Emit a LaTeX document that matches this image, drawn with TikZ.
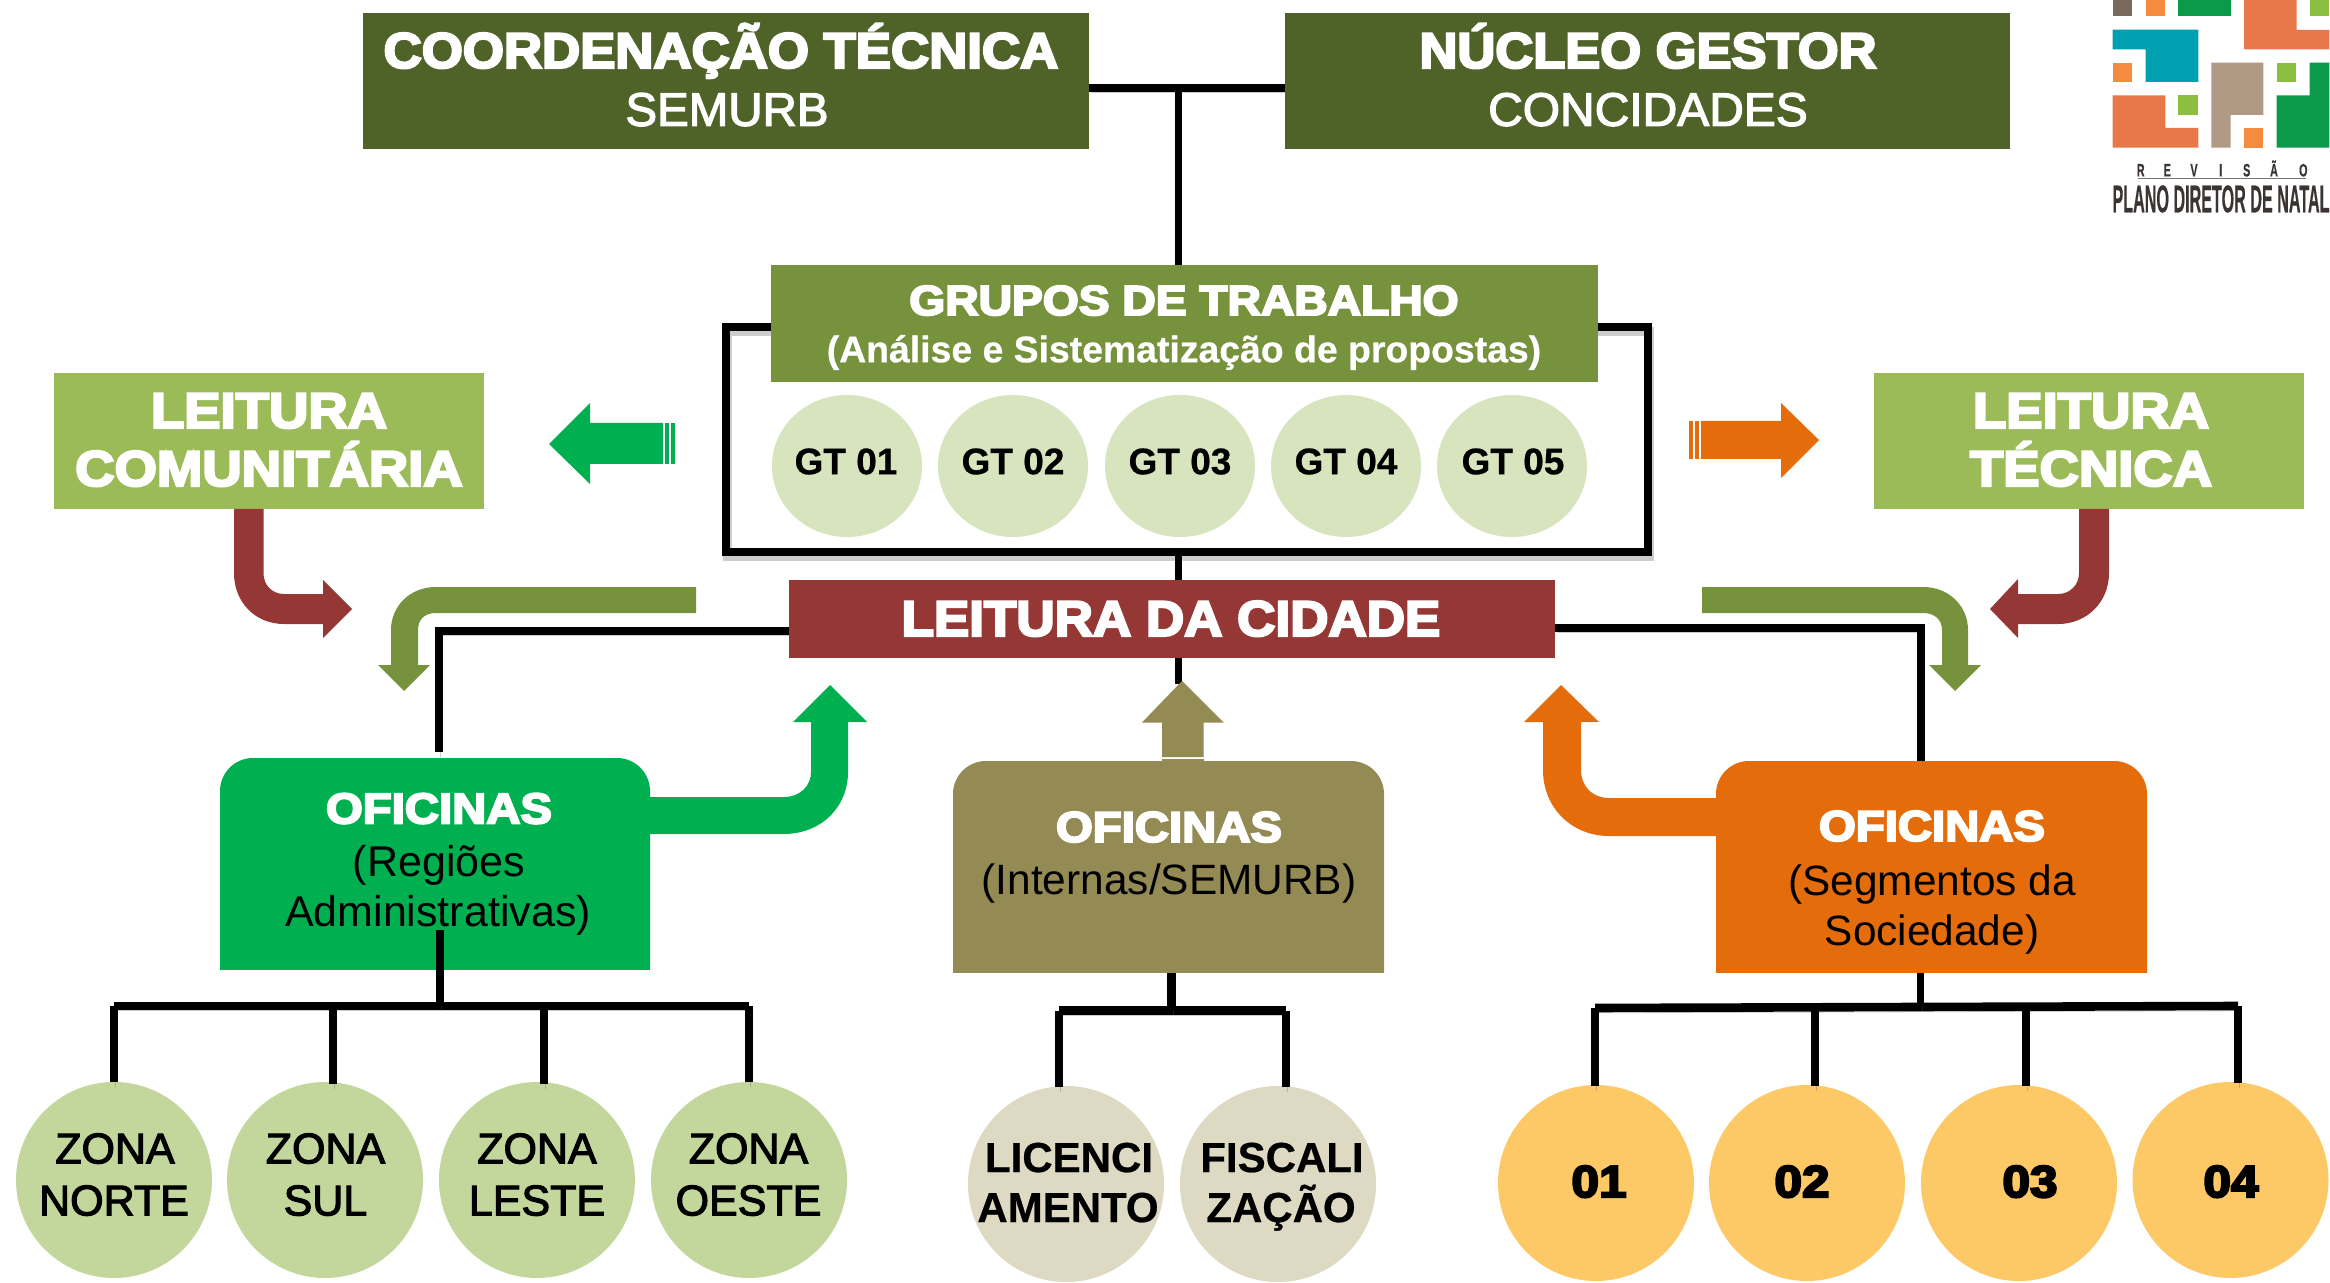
\documentclass[tikz,border=0pt]{standalone}
\usepackage{graphicx}
\usepackage{fontspec}
\usetikzlibrary{shapes.geometric}
\setmainfont{Liberation Sans}
\newfontfamily\heavyf[UprightFont={* Bold},FakeBold=4.5]{Liberation Sans}
\newfontfamily\boldf[UprightFont={* Bold},FakeBold=0.6]{Liberation Sans}
\newfontfamily\medf[FakeBold=2.6]{Liberation Sans}
\newfontfamily\regf{Liberation Sans}
\definecolor{cDark}{HTML}{4F6228}
\definecolor{cOlive}{HTML}{76923C}
\definecolor{cLeit}{HTML}{9BBB59}
\definecolor{cRed}{HTML}{953735}
\definecolor{cGreen}{HTML}{00B050}
\definecolor{cKhaki}{HTML}{948A54}
\definecolor{cOrange}{HTML}{E46C0A}
\definecolor{cZona}{HTML}{C3D69B}
\definecolor{cGT}{HTML}{D7E4BD}
\definecolor{cLic}{HTML}{DDD9C3}
\definecolor{cNum}{HTML}{FDC966}
\definecolor{lBrown}{HTML}{7A6A5E}
\definecolor{lOrange}{HTML}{F58B3F}
\definecolor{lGreen}{HTML}{0B9A4A}
\definecolor{lSalmon}{HTML}{E8784A}
\definecolor{lLight}{HTML}{8CBF3F}
\definecolor{lTeal}{HTML}{00A0B0}
\definecolor{lTan}{HTML}{B09A85}
\definecolor{lInk}{HTML}{3A3532}
\tikzset{
  x=0.5pt,y=-0.5pt,
  rect/.style={rectangle,inner sep=0pt,outer sep=0pt},
  round/.style={ellipse,inner sep=0pt,outer sep=0pt},
  conn/.style={line width=4.3pt,draw=black,line join=miter,
    preaction={draw=black!60,opacity=.32,transform canvas={shift={(0.8pt,-2.4pt)}}}},
  thinconn/.style={conn,line width=3.7pt},
}
% box from corners (px)
\newcommand\mybox[6]{\node[rect,fill=#6,minimum width={(#4-#2)*.5},minimum height={(#5-#3)*.5}] (#1) at ({(#2+#4)/2},{(#3+#5)/2}) {};}
% box with rounded top corners: the shape is a path, the node carries its name
\newcommand\mytabbox[6]{%
  \fill[#6,rounded corners=16.5pt] (#2,#5+40) -- (#2,#3) -- (#4,#3) -- (#4,#5+40) -- cycle;
  \fill[white] (#2-2,#5) rectangle (#4+2,#5+42);
  \node[rect,minimum width={(#4-#2)*.5},minimum height={(#5-#3)*.5}] (#1) at ({(#2+#4)/2},{(#3+#5)/2}) {};}
\newcommand\myell[6]{\node[round,fill=#6,minimum width={#4*1pt},minimum height={#5*1pt}] (#1) at (#2,#3) {};}
% name, x, cap-centre y, size pt, x-stretch, font, colour, text
\newcommand\tx[8]{\node[anchor=base,inner sep=0pt,outer sep=0pt,text=#7] (#1) at (#2,{#3+.716*#4}) {\scalebox{#5}[1]{\fontsize{#4pt}{#4pt}\selectfont#6#8}};}
\begin{document}
\begin{tikzpicture}
\useasboundingbox (0,0) rectangle (2330,1283);
\fill[white] (0,0) rectangle (2330,1283);

% ---------- connectors behind boxes
\node[rect,minimum width={(1648-726)*.5},minimum height={(552-327)*.5},conn] (frame) at (1187,439.5) {};
\coordinate (j1) at (1178.5,88);
\coordinate (jL) at (439,631);
\coordinate (jR) at (1921,628);

% ---------- top boxes
\mybox{coord}{363}{13}{1089}{149}{cDark}
\mybox{nucleo}{1285}{13}{2010}{149}{cDark}
\mybox{gt}{771}{265}{1598}{382}{cOlive}
\mybox{cidade}{789}{580}{1555}{658}{cRed}
\mybox{lcom}{54}{373}{484}{509}{cLeit}
\mybox{ltec}{1874}{373}{2304}{509}{cLeit}

\draw[conn] (coord.east|-j1) -- (nucleo.west|-j1);
\draw[thinconn] (j1) -- (gt.north-|j1);
\draw[thinconn] (frame.south-|j1) -- (cidade.north-|j1);

% ---------- workshop boxes
\mytabbox{ofR}{220}{758}{650}{970}{cGreen}
\mytabbox{ofI}{953}{761}{1384}{973}{cKhaki}
\mytabbox{ofS}{1716}{761}{2147}{973}{cOrange}

\coordinate (endL) at (439,752);
\draw[conn] (cidade.west|-jL) -- (jL) -- (endL);
\draw[conn] (cidade.east|-jR) -- (jR) -- (ofS.north-|jR);

% ---------- block arrows
% green left
\fill[cGreen] (549,444) -- (590,403) -- (590,423) -- (663,423) -- (663,464) -- (590,464) -- (590,484) -- cycle;
\fill[cGreen] (665,423) rectangle (669,464);
\fill[cGreen] (671,423) rectangle (675,464);
% orange right
\fill[cOrange] (1819,440) -- (1781,403) -- (1781,421) -- (1701,421) -- (1701,459) -- (1781,459) -- (1781,478) -- cycle;
\fill[cOrange] (1695,421) rectangle (1699,459);
\fill[cOrange] (1689,421) rectangle (1693,459);
% red left
\fill[cRed] (234,509) -- (263.5,509) -- (263.5,573) .. controls (263.5,585) and (272,594) .. (284,594) -- (323,594) -- (323,580) -- (352,609) -- (323,638) -- (323,624) -- (284,624) .. controls (255,624) and (234,602) .. (234,573) -- cycle;
% red right
\fill[cRed] (2109,509) -- (2079,509) -- (2079,573) .. controls (2079,585) and (2070,594) .. (2058,594) -- (2018,594) -- (2018,579) -- (1990,609) -- (2018,638) -- (2018,624) -- (2058,624) .. controls (2087,624) and (2109,602) .. (2109,573) -- cycle;
% olive left
\fill[cOlive] (696,587) -- (436,587) .. controls (410,587) and (391,606) .. (391,630) -- (391,665) -- (378,665) -- (404,691) -- (430,665) -- (418,665) -- (418,630) .. controls (418,620) and (424,613) .. (436,613) -- (696,613) -- cycle;
% olive right
\fill[cOlive] (1702,587) -- (1923,587) .. controls (1949,587) and (1968,606) .. (1968,630) -- (1968,665) -- (1981,665) -- (1955,691) -- (1929,665) -- (1942,665) -- (1942,630) .. controls (1942,620) and (1935,613) .. (1923,613) -- (1702,613) -- cycle;
% green up
\fill[cGreen] (650,797) -- (784,797) .. controls (800,797) and (811,786) .. (811,772) -- (811,722) -- (793,722) -- (830,685) -- (867,722) -- (848,722) -- (848,772) .. controls (848,808) and (820,834) .. (784,834) -- (650,834) -- cycle;
% orange up
\fill[cOrange] (1716,798) -- (1609,798) .. controls (1592,798) and (1581,786) .. (1581,770) -- (1581,722) -- (1599,722) -- (1561,685) -- (1524,722) -- (1543,722) -- (1543,770) .. controls (1543,808) and (1572,836) .. (1609,836) -- (1716,836) -- cycle;
% khaki up
\coordinate (kTip) at (1178.5,684);
\draw[thinconn] (cidade.south-|j1) -- (kTip);
\fill[cKhaki] (1182,681) -- (1223.5,722.5) -- (1203.5,722.5) -- (1203.5,757) -- (1162,757) -- (1162,722.5) -- (1142,722.5) -- cycle;
\fill[cKhaki] (1162,759) rectangle (1203.5,762);

% ---------- tree: regions
\coordinate (barRl) at (114,1006);
\coordinate (barRr) at (749,1006);
\coordinate (barR2) at (333,1006);
\coordinate (barR3) at (544,1006);
\coordinate (stemR) at (440,930);
\myell{z1}{114}{1180}{98}{98}{cZona}
\myell{z2}{325}{1180}{98}{98}{cZona}
\myell{z3}{537}{1180}{98}{98}{cZona}
\myell{z4}{749}{1180}{98}{98}{cZona}
\draw[conn] (barRl) -- (barRr);
\draw[thinconn] (stemR) -- (stemR|-barRl);
\draw[thinconn] (barRl) -- (z1.north);
\draw[thinconn] (barR2) -- (333,1084);
\draw[thinconn] (barR3) -- (544,1084);
\draw[thinconn] (barRr) -- (z4.north);

% ---------- tree: internal
\coordinate (barIl) at (1059,1010.5);
\coordinate (barIr) at (1286,1010.5);
\coordinate (stemI) at (1171.5,973);
\myell{li}{1066}{1184}{98}{98}{cLic}
\myell{fi}{1278}{1184}{98}{98}{cLic}
\draw[conn] (barIl) -- (barIr);
\draw[conn] (stemI) -- (stemI|-barIl);
\draw[conn] (barIl) -- (1059,1087);
\draw[conn] (barIr) -- (1286,1087);

% ---------- tree: segments
\coordinate (barSl) at (1595,1008);
\coordinate (barSr) at (2238,1006);
\coordinate (stemS) at (1920.6,973);
\coordinate (barS2) at (1815,1007);
\coordinate (barS3) at (2026,1007);
\myell{n1}{1596}{1183}{98}{98}{cNum}
\myell{n2}{1807}{1183}{98}{98}{cNum}
\myell{n3}{2019}{1183}{98}{98}{cNum}
\myell{n4}{2230.5}{1180}{98}{98}{cNum}
\draw[conn] (barSl) -- (barSr);
\draw[thinconn] (stemS) -- (stemS|-barSr);
\draw[thinconn] (barSl) -- (1595,1086);
\draw[thinconn] (barS2) -- (1815,1086);
\draw[thinconn] (barS3) -- (2026,1086);
\draw[thinconn] (barSr) -- (2238,1083);

% ---------- GT ellipses
\myell{g1}{847}{466}{75}{71}{cGT}
\myell{g2}{1013}{466}{75}{71}{cGT}
\myell{g3}{1180}{466}{75}{71}{cGT}
\myell{g4}{1346}{466}{75}{71}{cGT}
\myell{g5}{1512}{466}{75}{71}{cGT}

% ---------- texts
\tx{t1}{721}{50}{25}{1.056}{\heavyf}{white}{COORDENAÇÃO TÉCNICA}
\tx{t2}{727}{109}{23.5}{1.01}{\medf}{white}{SEMURB}
\tx{t3}{1648}{50}{25}{1.05}{\heavyf}{white}{NÚCLEO GESTOR}
\tx{t4}{1648}{109}{23.5}{1.02}{\medf}{white}{CONCIDADES}
\tx{t5}{1184}{300}{21}{1.1}{\heavyf}{white}{GRUPOS DE TRABALHO}
\tx{t6}{1184}{349}{18.5}{1.01}{\boldf}{white}{(Análise e Sistematização de propostas)}
\tx{t7}{846}{461}{18.5}{1}{\boldf}{black}{GT 01}
\tx{t8}{1013}{461}{18.5}{1}{\boldf}{black}{GT 02}
\tx{t9}{1180}{461}{18.5}{1}{\boldf}{black}{GT 03}
\tx{t10}{1346}{461}{18.5}{1}{\boldf}{black}{GT 04}
\tx{t11}{1513}{461}{18.5}{1}{\boldf}{black}{GT 05}
\tx{t12}{269}{410}{25}{1.09}{\heavyf}{white}{LEITURA}
\tx{t13}{269}{468}{25}{1.09}{\heavyf}{white}{COMUNITÁRIA}
\tx{t14}{2091}{410}{25}{1.09}{\heavyf}{white}{LEITURA}
\tx{t15}{2091}{468}{25}{1.09}{\heavyf}{white}{TÉCNICA}
\tx{t16}{1171}{618}{25}{1.06}{\heavyf}{white}{LEITURA DA CIDADE}
\tx{t17}{439}{808}{21.5}{1.1}{\heavyf}{white}{OFICINAS}
\tx{t18}{439}{861}{21.5}{1}{\regf}{black}{(Regiões}
\tx{t19}{438}{911}{21.5}{1}{\regf}{black}{Administrativas)}
\tx{t20}{1169}{826.5}{21.5}{1.1}{\heavyf}{white}{OFICINAS}
\tx{t21}{1169}{879}{21.2}{1}{\regf}{black}{(Internas/SEMURB)}
\tx{t22}{1932}{825.5}{21.5}{1.1}{\heavyf}{white}{OFICINAS}
\tx{t23}{1932}{880}{21.2}{1}{\regf}{black}{(Segmentos da}
\tx{t24}{1932}{930}{21.2}{1}{\regf}{black}{Sociedade)}
\tx{t25}{115}{1148}{21.5}{1}{\medf}{black}{ZONA}
\tx{t26}{114}{1200}{21.5}{1}{\medf}{black}{NORTE}
\tx{t27}{325.5}{1148}{21.5}{1}{\medf}{black}{ZONA}
\tx{t28}{325.5}{1200}{21.5}{1}{\medf}{black}{SUL}
\tx{t29}{537}{1148}{21.5}{1}{\medf}{black}{ZONA}
\tx{t30}{537}{1200}{21.5}{1}{\medf}{black}{LESTE}
\tx{t31}{748.5}{1148}{21.5}{1}{\medf}{black}{ZONA}
\tx{t32}{748.5}{1200}{21.5}{1}{\medf}{black}{OESTE}
\tx{t33}{1069}{1157}{21}{1}{\boldf}{black}{LICENCI}
\tx{t34}{1068}{1207}{21}{1}{\boldf}{black}{AMENTO}
\tx{t35}{1282}{1157}{21}{1}{\boldf}{black}{FISCALI}
\tx{t36}{1281}{1207}{21}{1}{\boldf}{black}{ZAÇÃO}
\tx{t37}{1599}{1181}{22.5}{1.1}{\heavyf}{black}{01}
\tx{t38}{1802}{1181}{22.5}{1.1}{\heavyf}{black}{02}
\tx{t39}{2030}{1181}{22.5}{1.1}{\heavyf}{black}{03}
\tx{t40}{2231}{1181}{22.5}{1.1}{\heavyf}{black}{04}

% ---------- logo
\begin{scope}[shift={(2050,0)},x=0.16667pt,y=-0.16667pt]
\fill[lBrown] (188,0) rectangle (247,48);
\fill[lOrange] (287,0) rectangle (346,48);
\fill[lGreen] (385,0) rectangle (542,48);
\fill[lSalmon] (582,0) -- (740,0) -- (740,90) -- (838,90) -- (838,148) -- (582,148) -- cycle;
\fill[lLight] (779,0) rectangle (838,48);
\fill[lTeal] (188,89) -- (445,89) -- (445,246) -- (287,246) -- (287,148) -- (188,148) -- cycle;
\fill[lOrange] (188,188) rectangle (247,246);
\fill[lTan] (484,188) -- (640,188) -- (640,345) -- (542,345) -- (542,443) -- (484,443) -- cycle;
\fill[lLight] (680,188) rectangle (739,246);
\fill[lGreen] (779,188) -- (838,188) -- (838,443) -- (680,443) -- (680,286) -- (779,286) -- cycle;
\fill[lSalmon] (188,286) -- (346,286) -- (346,384) -- (445,384) -- (445,443) -- (188,443) -- cycle;
\fill[lLight] (385,286) rectangle (444,345);
\fill[lOrange] (582,385) rectangle (640,443);
\draw[lInk!70,line width=0.5pt] (265,535) -- (768,535);
\end{scope}
\tx{r1}{2140.7}{170}{9}{.6}{\boldf}{lInk}{R}
\tx{r2}{2167.3}{170}{9}{.6}{\boldf}{lInk}{E}
\tx{r3}{2194}{170}{9}{.6}{\boldf}{lInk}{V}
\tx{r4}{2220.7}{170}{9}{.6}{\boldf}{lInk}{I}
\tx{r5}{2246.7}{170}{9}{.6}{\boldf}{lInk}{S}
\tx{r6}{2274}{170}{9}{.6}{\boldf}{lInk}{Ã}
\tx{r7}{2303.3}{170}{9}{.6}{\boldf}{lInk}{O}
\node[inner sep=0pt,outer sep=0pt,text=lInk] (pdn) at (2221,199) {\resizebox{108.5pt}{13.5pt}{\boldf PLANO DIRETOR DE NATAL}};
\end{tikzpicture}
\end{document}
